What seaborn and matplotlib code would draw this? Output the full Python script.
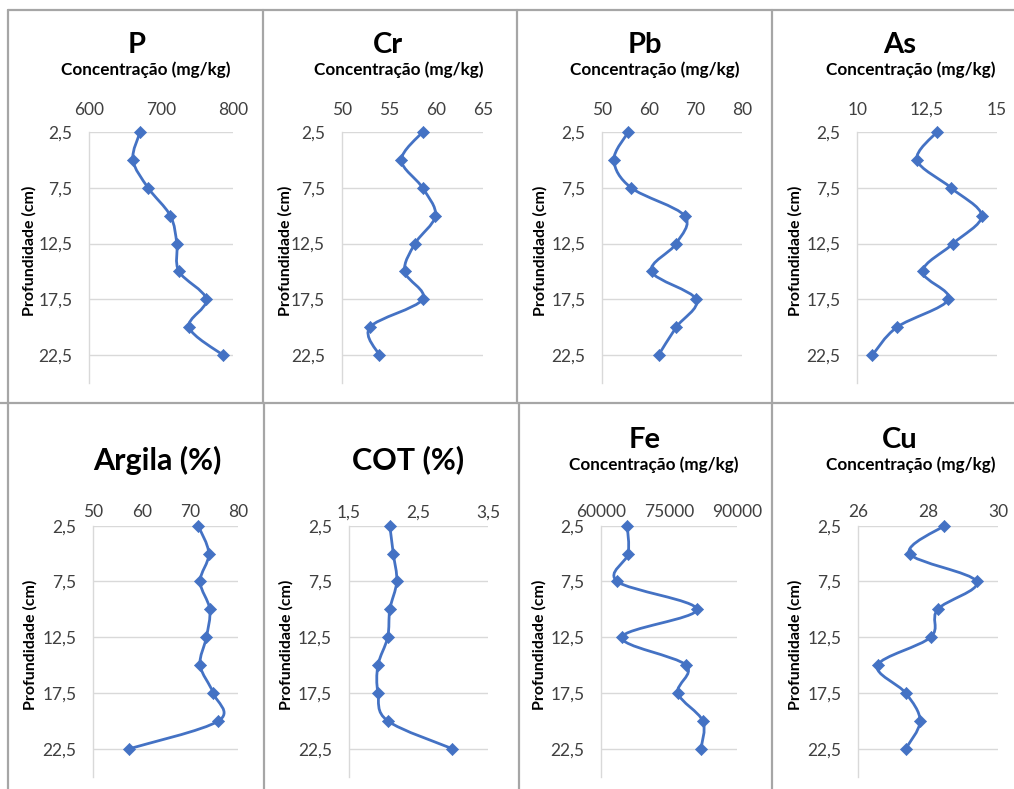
import numpy as np
import matplotlib
matplotlib.use('Agg')
import matplotlib.pyplot as plt
from matplotlib.path import Path
from matplotlib.patches import PathPatch
import seaborn as sns

# profundidade das amostras (cm)
profundidade = [2.5, 5, 7.5, 10, 12.5, 15, 17.5, 20, 22.5]
prof_ticks = [2.5, 7.5, 12.5, 17.5, 22.5]
prof_labels = ['2,5', '7,5', '12,5', '17,5', '22,5']

P = [671, 661, 682, 713, 722, 725, 763, 739, 786]
Cr = [58.6, 56.35, 58.6, 59.97, 57.8, 56.7, 58.6, 53.0, 54.0]
Pb = [55.6, 52.5, 56.2, 67.7, 65.9, 60.6, 70.2, 65.9, 62.1]
As = [12.85, 12.14, 13.36, 14.46, 13.44, 12.34, 13.27, 11.42, 10.54]
Argila = [71.7, 73.9, 72.1, 74.1, 73.4, 72.1, 74.8, 75.9, 57.4]
COT = [2.09, 2.14, 2.19, 2.09, 2.06, 1.92, 1.92, 2.06, 2.99]
Fe = [65800, 66000, 63600, 81200, 64600, 78800, 77000, 82500, 82100]
Cu = [28.46, 27.47, 29.38, 28.27, 28.07, 26.56, 27.36, 27.77, 27.36]

ticks_P = [600, 700, 800]
ticks_Cr = [50, 55, 60, 65]
ticks_Pb = [50, 60, 70, 80]
ticks_As = [10, 12.5, 15]
ticks_Argila = [50, 60, 70, 80]
ticks_COT = [1.5, 2.5, 3.5]
ticks_Fe = [60000, 75000, 90000]
ticks_Cu = [26, 28, 30]

SUB = 'Concentração (mg/kg)'
W, H = 1014, 789
AZUL = '#4472C4'
CINZA = '#d9d9d9'

sns.set_theme(style='white')
plt.rcParams['font.family'] = ['Lato', 'DejaVu Sans']

fig = plt.figure(figsize=(W/100, H/100), dpi=100)


def fx(px):
    return px / W


def fy(py):
    return 1 - py / H


def curva(ax, x, y):
    # linha suavizada (estilo Excel) ligando os pontos medidos
    pts = np.column_stack([x, y]).astype(float)
    ext = np.vstack([pts[0], pts, pts[-1]])
    verts = [pts[0]]
    codes = [Path.MOVETO]
    for i in range(len(pts) - 1):
        p0, p1, p2, p3 = ext[i], ext[i+1], ext[i+2], ext[i+3]
        verts += [p1 + (p2 - p0) / 6, p2 - (p3 - p1) / 6, p2]
        codes += [Path.CURVE4] * 3
    ax.add_patch(PathPatch(Path(verts, codes), fill=False, edgecolor=AZUL, lw=2, zorder=2))


# (valores, ticks, titulo, subtitulo?, l, r, top, bottom, titulo_x, titulo_y, sub_x, ylabel_x, ylabel_y, xpad, tamanho_titulo)
paineis = [
    (P, ticks_P, 'P', True, 89, 233, 132, 383, 137, 45, 146, 29, 251, 10, 21),
    (Cr, ticks_Cr, 'Cr', True, 341.7, 482.7, 132, 383, 388, 45, 399, 285, 251, 10, 21),
    (Pb, ticks_Pb, 'Pb', True, 602.3, 741.7, 132, 383, 645, 45, 655, 540, 251, 10, 21),
    (As, ticks_As, 'As', True, 857.3, 996.7, 132, 383, 900, 45, 911, 795, 251, 10, 21),
    (Argila, ticks_Argila, 'Argila (%)', False, 93.3, 238.3, 525.7, 776.7, 157.5, 460, 0, 30, 645, 4, 22),
    (COT, ticks_COT, 'COT (%)', False, 348.7, 488, 525.7, 776.7, 407.7, 460, 0, 286, 645, 4, 22),
    (Fe, ticks_Fe, 'Fe', True, 601, 736.7, 525.7, 776.7, 645, 440, 654, 539, 645, 4, 21),
    (Cu, ticks_Cu, 'Cu', True, 858, 998.3, 525.7, 776.7, 900, 440, 910.5, 795, 645, 4, 21),
]

for vals, ticks, titulo, tem_sub, l, r, t, b, tx, ty, sx, lx, ly, xpad, tt in paineis:
    ax = fig.add_axes([fx(l), fy(b), fx(r - l), (b - t) / H])
    curva(ax, vals, profundidade)
    sns.scatterplot(x=vals, y=profundidade, marker='D', s=38, color=AZUL,
                    edgecolor=AZUL, linewidth=0.5, ax=ax, zorder=3, clip_on=False)
    ax.set_xlim(ticks[0], ticks[-1])
    ax.set_ylim(25, 2.5)
    ax.set_xticks(ticks)
    ax.set_xticklabels([f'{v:g}'.replace('.', ',') for v in ticks], fontsize=12.5, color='#404040')
    ax.set_yticks(prof_ticks)
    ax.set_yticklabels(prof_labels, fontsize=12.5, color='#404040')
    ax.xaxis.tick_top()
    ax.tick_params(axis='x', length=0, pad=xpad)
    ax.tick_params(axis='y', length=0, pad=12)
    ax.grid(axis='y', color=CINZA, lw=1)
    ax.grid(axis='x', visible=False)
    for s in ['top', 'right', 'bottom']:
        ax.spines[s].set_visible(False)
    ax.spines['left'].set_color(CINZA)
    ax.spines['left'].set_linewidth(1)
    ax.set_xlabel('')
    ax.set_ylabel('')
    fig.text(fx(tx), fy(ty), titulo, ha='center', va='center', fontsize=tt, fontweight='bold', color='black')
    if tem_sub:
        fig.text(fx(sx), fy(ty + 25), SUB, ha='center', va='center', fontsize=12.3, fontweight='bold', color='black')
    fig.text(fx(lx), fy(ly), 'Profundidade (cm)', ha='center', va='center', rotation=90,
             fontsize=11.5, fontweight='bold', color='black')

# molduras dos graficos
BORDA = '#a6a6a6'
for x0, y0, x1, y1 in [(8, 10, W, 10), (8, 10, 8, H), (0, 403, W, 403),
                       (262.5, 10, 262.5, 403), (517, 10, 517, 403), (772, 10, 772, 403),
                       (263.5, 403, 263.5, H), (518.5, 403, 518.5, H), (772, 403, 772, H)]:
    fig.add_artist(plt.Line2D([fx(x0), fx(x1)], [fy(y0), fy(y1)], color=BORDA, lw=1.6,
                              transform=fig.transFigure))

fig.savefig('out.png', dpi=100)
